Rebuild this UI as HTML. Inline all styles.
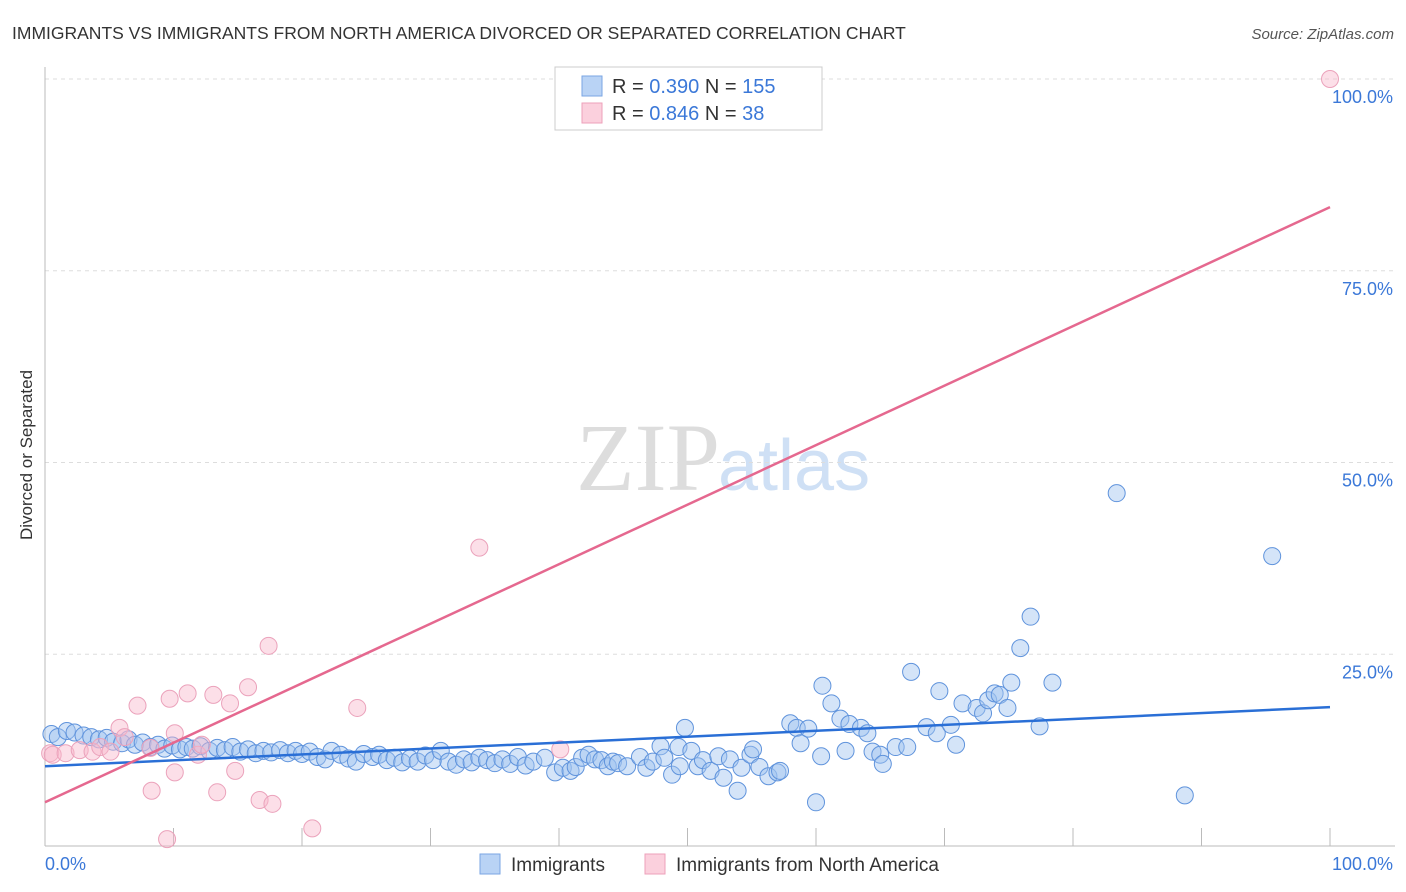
<!DOCTYPE html>
<html><head><meta charset="utf-8"><style>
body{margin:0;background:#fff;font-family:"Liberation Sans",sans-serif;}
svg{display:block}
</style></head><body>
<svg id="chart" width="1406" height="892">
<text x="12" y="39" font-size="17.5" fill="#333">IMMIGRANTS VS IMMIGRANTS FROM NORTH AMERICA DIVORCED OR SEPARATED CORRELATION CHART</text>
<text x="1394" y="39" font-size="15" fill="#555" font-style="italic" text-anchor="end">Source: ZipAtlas.com</text>
<text x="32" y="455" font-size="17" fill="#333" text-anchor="middle" transform="rotate(-90 32 455)">Divorced or Separated</text>
<text x="720" y="490" font-size="96" fill="#ddd" text-anchor="end" font-family="Liberation Serif,serif">ZIP</text>
<text x="718" y="490" font-size="72" fill="#cfe0f5">atlas</text>
<g id="axes"></g>
<g id="marks"></g>
<g>
<rect x="555" y="67" width="267" height="63" fill="#fff" stroke="#ccc"/>
<rect x="582" y="76" width="20" height="20" fill="#b9d3f5" stroke="#7aa6e3"/>
<rect x="582" y="103" width="20" height="20" fill="#fbd0dd" stroke="#eea0ba"/>
<text x="612" y="93" font-size="20" fill="#333">R = <tspan fill="#3b78d8">0.390</tspan>   N = <tspan fill="#3b78d8">155</tspan></text>
<text x="612" y="120" font-size="20" fill="#333">R = <tspan fill="#3b78d8">0.846</tspan>   N =   <tspan fill="#3b78d8">38</tspan></text>
</g>
<g>
<rect x="480" y="854" width="20" height="20" fill="#b9d3f5" stroke="#7aa6e3"/>
<text x="511" y="871" font-size="19" fill="#333">Immigrants</text>
<rect x="645" y="854" width="20" height="20" fill="#fbd0dd" stroke="#eea0ba"/>
<text x="676" y="871" font-size="19" fill="#333">Immigrants from North America</text>
</g>
</svg>
<script>
const blueX=[0.5,1,1.7,2.3,3,3.6,4.2,4.8,5.3,6,6.5,7,7.6,8.2,8.8,9.3,9.9,10.5,11,11.5,12.1,12.8,13.4,14,14.6,15.2,15.8,16.4,17,17.6,18.3,18.9,19.5,20,20.6,21.2,21.8,22.3,23,23.6,24.2,24.8,25.5,26,26.6,27.2,27.8,28.4,29,29.6,30.2,30.8,31.4,32,32.6,33.2,33.8,34.4,35,35.6,36.2,36.8,37.4,38,38.9,39.7,40.3,40.9,41.3,41.8,42.3,42.8,43.3,43.8,44.2,44.6,45.3,46.3,46.8,47.3,47.9,48.2,48.8,49.3,49.4,49.8,50.3,50.8,51.2,51.8,52.4,52.8,53.3,53.9,54.2,54.9,55.1,55.6,56.3,57,57.2,58,58.5,58.8,59.4,60,60.4,60.5,61.2,61.9,62.3,62.6,63.5,64,64.4,65,65.2,66.2,67.1,67.4,68.6,69.4,69.6,70.5,70.9,71.4,72.5,73,73.4,73.9,74.3,74.9,75.2,75.9,76.7,77.4,78.4,83.4,88.7,95.5];
const blueY=[14.6,14.2,15,14.8,14.4,14.2,13.9,14.1,13.6,13.4,13.9,13.2,13.5,12.9,13.2,12.7,13.1,12.6,12.9,12.7,13,12.4,12.8,12.5,12.9,12.3,12.6,12.1,12.4,12.2,12.5,12.1,12.4,12,12.3,11.6,11.3,12.4,11.9,11.4,11,12,11.6,11.9,11.2,11.5,10.9,11.4,11,11.8,11.2,12.4,11,10.6,11.3,10.9,11.5,11.2,10.8,11.3,10.7,11.6,10.5,11,11.5,9.6,10.2,9.8,10.3,11.5,11.9,11.3,11.2,10.4,11,10.8,10.4,11.6,10.2,11,13,11.5,9.3,12.9,10.4,15.4,12.4,10.4,11.2,9.8,11.7,8.9,11.3,7.2,10.2,11.9,12.6,10.3,9.1,9.6,9.8,16,15.4,13.4,15.3,5.7,11.7,20.9,18.6,16.6,12.4,15.9,15.4,14.7,12.3,11.9,10.7,12.9,12.9,22.7,15.5,14.7,20.2,15.8,13.2,18.6,18,17.3,19,19.9,19.7,18,21.3,25.8,29.9,15.6,21.3,46,6.6,37.8];
const pinkX=[0.4,0.6,1.6,2.7,3.7,4.3,5.1,5.8,6.2,7.2,8.2,8.3,9.5,9.7,10.1,10.1,11.1,11.9,12.2,13.1,13.4,14.4,14.8,15.8,16.7,17.4,17.7,20.8,24.3,33.8,40.1,100];
const pinkY=[12.1,11.9,12.1,12.5,12.3,12.9,12.3,15.4,14.2,18.3,12.8,7.2,0.9,19.2,9.6,14.7,19.9,11.9,13.2,19.7,7,18.6,9.8,20.7,6,26.1,5.5,2.3,18,38.9,12.6,100];
const blueTrend=[10.4,18.1];
const pinkTrend=[5.7,83.3];
const xTicks=[0,10,20,30,40,50,60,70,80,90,100];
const yTicks=[25,50,75,100];
const yTickLabels=["25.0%","50.0%","75.0%","100.0%"];
const NS="http://www.w3.org/2000/svg";
const X0=45,X1=1330,Y0=846,Y1=79;
const sx=v=>X0+(X1-X0)*v/100;
const sy=v=>Y0-(Y0-Y1)*v/100;
const axes=document.getElementById('axes'),marks=document.getElementById('marks');
function mk(tag,attrs,parent){const e=document.createElementNS(NS,tag);for(const k in attrs)e.setAttribute(k,attrs[k]);parent.appendChild(e);return e;}
yTicks.forEach((t,i)=>{
 const g=mk('line',{x1:X0,x2:1395,y1:sy(t),y2:sy(t),stroke:'#ddd','stroke-dasharray':'4,4'},axes);
 
 
 const l=mk('text',{x:1393,y:sy(t)+24,'font-size':18,fill:'#3b78d8','text-anchor':'end'},axes);
 l.textContent=yTickLabels[i];
 
 
});
const ya=mk('line',{x1:X0,x2:X0,y1:67,y2:Y0,stroke:'#bbb'},axes);


const xa=mk('line',{x1:X0,x2:1395,y1:Y0,y2:Y0,stroke:'#bbb'},axes);


xTicks.forEach(t=>{
 const tk=mk('line',{x1:sx(t),x2:sx(t),y1:Y0,y2:Y0-18,stroke:'#bbb'},axes);
 
 
});
const xl0=mk('text',{x:45,y:870,'font-size':18,fill:'#3b78d8'},axes);xl0.textContent='0.0%';


const xl1=mk('text',{x:1393,y:870,'font-size':18,fill:'#3b78d8','text-anchor':'end'},axes);xl1.textContent='100.0%';


blueX.forEach((x,i)=>{
 const c=mk('circle',{cx:sx(x),cy:sy(blueY[i]),r:8.5,fill:'rgba(160,195,240,0.45)',stroke:'#5f93dc','stroke-width':1},marks);
 
 
});
pinkX.forEach((x,i)=>{
 const c=mk('circle',{cx:sx(x),cy:sy(pinkY[i]),r:8.5,fill:'rgba(248,185,205,0.45)',stroke:'#eba2bb','stroke-width':1},marks);
 
 
});
const bl=mk('line',{x1:sx(0),y1:sy(blueTrend[0]),x2:sx(100),y2:sy(blueTrend[1]),stroke:'#2a6fd6','stroke-width':2.5},marks);


const pl=mk('line',{x1:sx(0),y1:sy(pinkTrend[0]),x2:sx(100),y2:sy(pinkTrend[1]),stroke:'#e5688f','stroke-width':2.5},marks);


</script>
</body></html>
